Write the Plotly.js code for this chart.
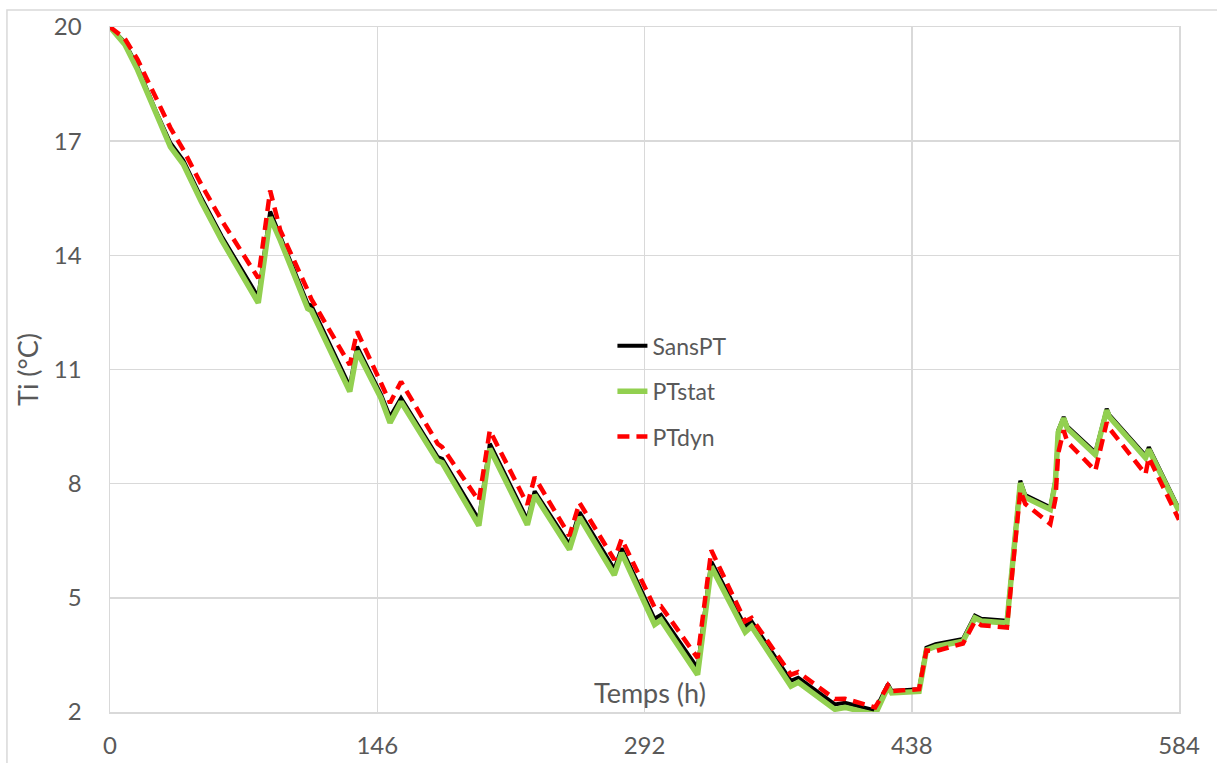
<!DOCTYPE html>
<html>
<head>
<meta charset="utf-8">
<script src="https://cdn.plot.ly/plotly-3.0.1.min.js"></script>
<style>html,body{margin:0;padding:0;background:#fff;}#chart{width:1217px;height:763px;}</style>
</head>
<body>
<div id="chart"></div>
<script>
// Time (h)
const hours = [0, 8, 15, 25, 33, 40, 50, 61, 81, 87.5, 93, 108, 110, 131, 135, 148, 153, 159, 179, 181.5,
  201.5, 207.5, 228, 232, 251, 256.5, 275.5, 279.5, 297.5, 301, 321, 328.5, 347, 350.5, 372, 376, 396, 401.5,
  418, 425, 427, 442, 446, 451, 466, 472.5, 476, 490, 497.3, 500, 513.7, 516.5, 518, 521, 523, 538.3, 544.5,
  546, 565.7, 567.5, 584];

// Ti (°C) series
const sansPT = [20, 19.6, 18.95, 17.8, 16.95, 16.5, 15.5, 14.5, 12.9, 15.15, 14.5, 12.72, 12.68, 10.55, 11.6,
  10.35, 9.75, 10.25, 8.7, 8.65, 7.05, 9.05, 7.05, 7.8, 6.4, 7.25, 5.75, 6.3, 4.45, 4.55, 3.15, 5.95, 4.25,
  4.38, 2.82, 2.9, 2.2, 2.24, 2.04, 2.73, 2.55, 2.6, 3.69, 3.78, 3.92, 4.53, 4.45, 4.4, 8.08, 7.7, 7.38, 8.1,
  9.4, 9.75, 9.5, 8.82, 9.97, 9.8, 8.74, 8.96, 7.33];

const ptStat = [20, 19.55, 18.88, 17.7, 16.85, 16.4, 15.4, 14.4, 12.75, 15.0, 14.4, 12.6, 12.55, 10.42, 11.48,
  10.25, 9.6, 10.15, 8.6, 8.55, 6.9, 8.92, 6.92, 7.7, 6.27, 7.12, 5.6, 6.18, 4.3, 4.42, 2.98, 5.82, 4.1,
  4.25, 2.68, 2.78, 2.07, 2.12, 1.93, 2.66, 2.5, 2.54, 3.63, 3.72, 3.86, 4.47, 4.39, 4.34, 8.02, 7.64, 7.32, 8.05,
  9.35, 9.72, 9.45, 8.76, 9.93, 9.75, 8.68, 8.9, 7.28];

const ptDyn = [20, 19.7, 19.15, 18.13, 17.35, 16.78, 15.85, 14.92, 13.4, 15.7, 14.66, 13.08, 12.85, 11.12, 12.0,
  10.65, 10.12, 10.68, 9.05, 8.96, 7.55, 9.4, 7.45, 8.17, 6.63, 7.5, 6.0, 6.55, 4.75, 4.78, 3.42, 6.25, 4.38,
  4.47, 2.98, 3.05, 2.34, 2.35, 2.12, 2.7, 2.55, 2.6, 3.62, 3.6, 3.8, 4.38, 4.28, 4.22, 7.82, 7.47, 6.94, 7.6,
  8.8, 9.4, 9.1, 8.34, 9.61, 9.45, 8.25, 8.69, 7.05];

const seriesNames = ['SansPT', 'PTstat', 'PTdyn'];
const xTicks = [0, 146, 292, 438, 584];
const yTicks = [2, 5, 8, 11, 14, 17, 20];

const FONT = 'Lato, "Open Sans", sans-serif';
const GREY = '#595959';
const GRID = '#d9d9d9';

const traces = [
  {x: hours, y: sansPT, name: seriesNames[0], mode: 'lines', legendgroup: 'a',
   line: {color: '#000000', width: 4}},
  {x: hours, y: ptStat, name: seriesNames[1], mode: 'lines', legendgroup: 'b',
   line: {color: '#92d050', width: 5.5}},
  {x: hours, y: ptDyn, name: seriesNames[2], mode: 'lines', legendgroup: 'c',
   line: {color: '#ff0000', width: 4.5, dash: '12px,7px'}}
];

const layout = {
  width: 1217, height: 763,
  margin: {l: 110, r: 38, t: 27, b: 51, pad: 0},
  paper_bgcolor: '#ffffff', plot_bgcolor: '#ffffff',
  font: {family: FONT, color: GREY},
  showlegend: true,
  legend: {x: 0.47, y: 0.566, xanchor: 'left', yanchor: 'top', bgcolor: 'rgba(0,0,0,0)',
    font: {family: FONT, size: 23, color: GREY}, tracegroupgap: 12.5},
  xaxis: {range: [0, 584], tickvals: xTicks, ticktext: xTicks.map(String), showgrid: true,
    gridcolor: GRID, gridwidth: 1.5, zeroline: false, showline: true, mirror: true,
    linecolor: GRID, linewidth: 1.5, ticks: '', ticklabelstandoff: 12,
    tickfont: {family: FONT, size: 24, color: GREY}},
  yaxis: {range: [2, 20], tickvals: yTicks, ticktext: yTicks.map(String), showgrid: true,
    gridcolor: GRID, gridwidth: 1.5, zeroline: false, showline: true, mirror: true,
    linecolor: GRID, linewidth: 1.5, ticks: '', ticklabelstandoff: 22,
    tickfont: {family: FONT, size: 24, color: GREY},
    title: {text: 'Ti (°C)', font: {family: FONT, size: 27, color: GREY}, standoff: 7}},
  annotations: [
    {text: 'Temps (h)', xref: 'paper', yref: 'paper', x: 0.505, y: 0.029, xanchor: 'center', yanchor: 'middle',
     showarrow: false, font: {family: FONT, size: 27, color: GREY}}
  ],
  shapes: [
    {type: 'rect', xref: 'paper', yref: 'paper', x0: -0.0964, x1: 1.2, y0: -0.3, y1: 1.0248,
     line: {color: GRID, width: 1.5}, fillcolor: 'rgba(0,0,0,0)', layer: 'below'}
  ]
};

Plotly.newPlot('chart', traces, layout, {displayModeBar: false, staticPlot: true});
</script>
</body>
</html>
